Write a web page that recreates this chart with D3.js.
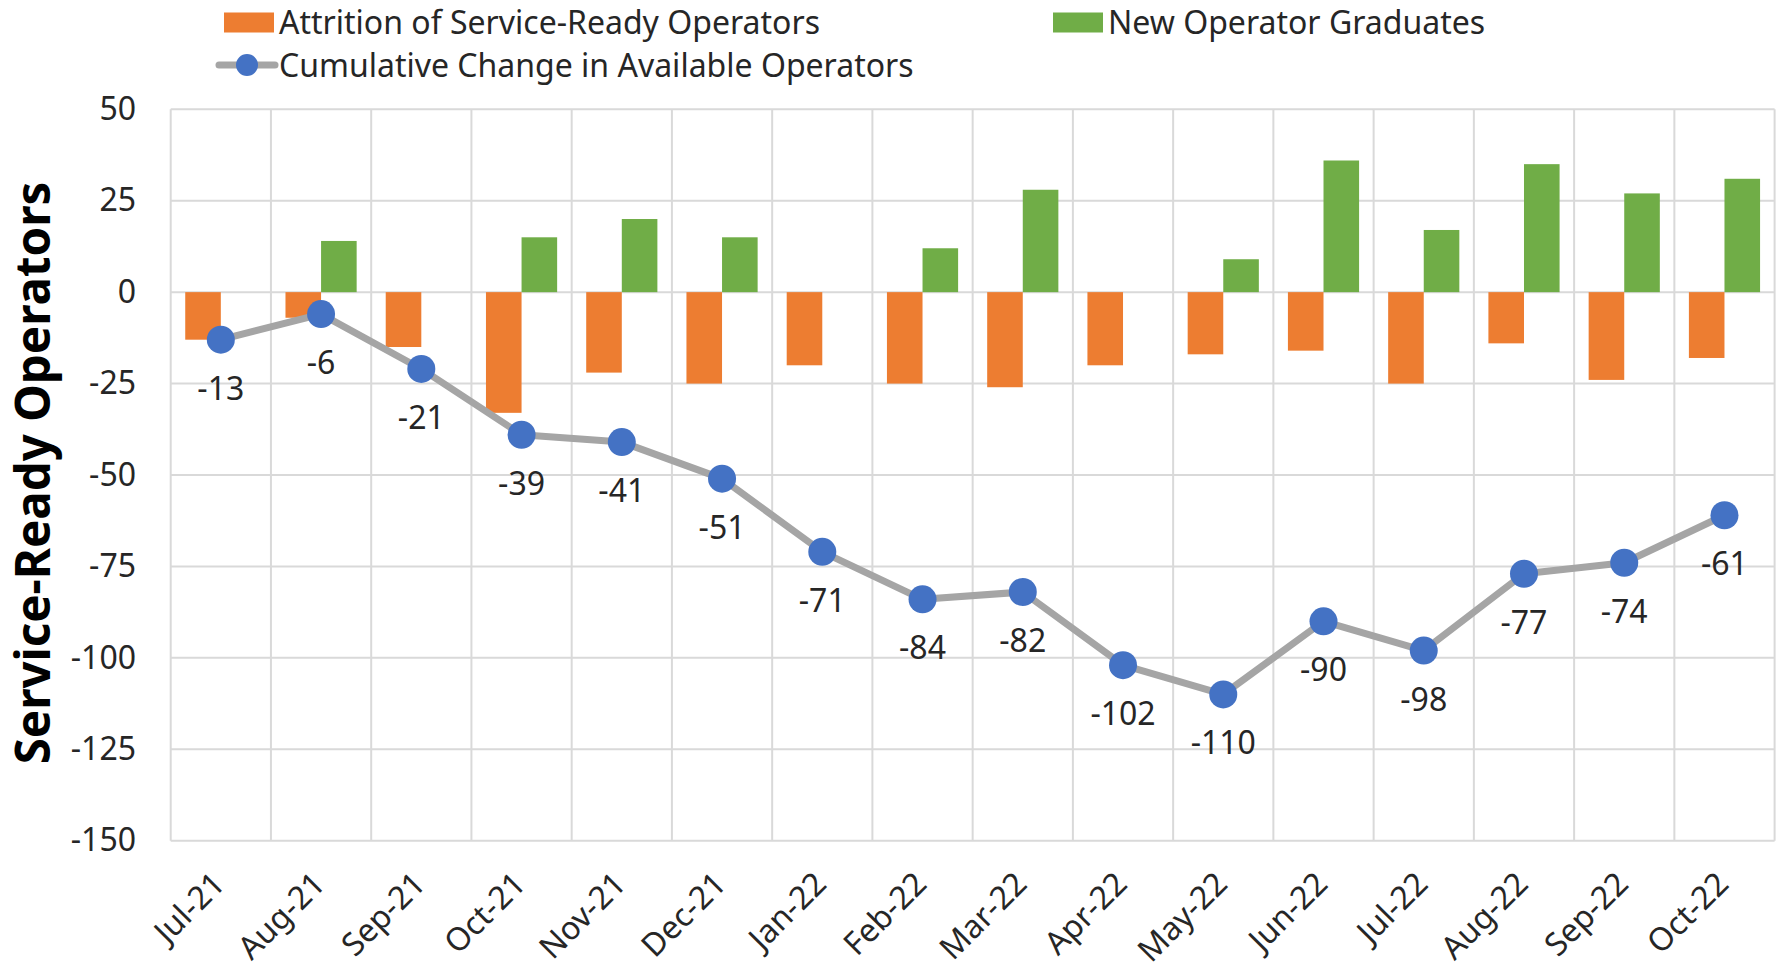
<!DOCTYPE html>
<html>
<head>
<meta charset="utf-8">
<script src="https://cdn.jsdelivr.net/npm/d3@7"></script>
<style>
  html, body { margin: 0; padding: 0; background: #fff; }
  svg { display: block; font-family: "Noto Sans", "Open Sans", sans-serif; }
</style>
</head>
<body>
<svg id="chart" width="1781" height="970"></svg>
<script>
const categories = ["Jul-21","Aug-21","Sep-21","Oct-21","Nov-21","Dec-21","Jan-22","Feb-22","Mar-22","Apr-22","May-22","Jun-22","Jul-22","Aug-22","Sep-22","Oct-22"];
const attrition = [-13,-7,-15,-33,-22,-25,-20,-25,-26,-20,-17,-16,-25,-14,-24,-18];
const graduates = [0,14,0,15,20,15,0,12,28,0,9,36,17,35,27,31];
const cumulative = [-13,-6,-21,-39,-41,-51,-71,-84,-82,-102,-110,-90,-98,-77,-74,-61];
const yTicks = [50,25,0,-25,-50,-75,-100,-125,-150];
const seriesNames = ["Attrition of Service-Ready Operators","New Operator Graduates","Cumulative Change in Available Operators"];
const yTitle = "Service-Ready Operators";

const colors = { attr: "#ED7D31", grad: "#70AD47", line: "#A5A5A5", dot: "#4472C4", grid: "#D9D9D9", text: "#262626" };

const svg = d3.select("#chart");
const pLeft = 170.7, pRight = 1774.6, pTop = 109.3, pBottom = 840.7;

const x = d3.scaleBand().domain(categories).range([pLeft, pRight]).paddingInner(0).paddingOuter(0);
const y = d3.scaleLinear().domain([-150, 50]).range([pBottom, pTop]);
const bw = x.bandwidth() * 0.355;
const cx = c => x(c) + x.bandwidth() / 2;

// gridlines
const g = svg.append("g");
g.selectAll("line.h").data(yTicks).join("line")
  .attr("x1", pLeft).attr("x2", pRight)
  .attr("y1", d => y(d)).attr("y2", d => y(d))
  .attr("stroke", colors.grid).attr("stroke-width", 2);
const bounds = categories.map(c => x(c)).concat([pRight]);
g.selectAll("line.v").data(bounds).join("line")
  .attr("x1", d => d).attr("x2", d => d)
  .attr("y1", pTop).attr("y2", pBottom)
  .attr("stroke", colors.grid).attr("stroke-width", 2);

// y axis labels
const yAxis = d3.axisLeft(y).tickValues(yTicks).tickSize(0).tickPadding(0).tickFormat(d => String(d));
const ya = svg.append("g").attr("transform", `translate(136,0)`).call(yAxis);
ya.select(".domain").remove();
ya.selectAll("text").attr("font-size", 32).attr("fill", colors.text)
  .attr("font-family", '"Noto Sans", sans-serif');

// x axis labels
const xAxis = d3.axisBottom(x).tickSize(0).tickPadding(0);
const xa = svg.append("g").attr("transform", `translate(0,${pBottom})`).call(xAxis);
xa.select(".domain").remove();
xa.selectAll("text")
  .attr("font-size", 32).attr("fill", colors.text)
  .attr("font-family", '"Noto Sans", sans-serif')
  .attr("text-anchor", "end")
  .attr("dy", null).attr("y", 0)
  .attr("transform", "translate(6,45) rotate(-45)");

// bars
svg.append("g").selectAll("rect").data(categories).join("rect")
  .attr("x", (c) => cx(c) - bw)
  .attr("width", bw)
  .attr("y", (c, i) => y(Math.max(0, attrition[i])))
  .attr("height", (c, i) => Math.abs(y(attrition[i]) - y(0)))
  .attr("fill", colors.attr);
svg.append("g").selectAll("rect").data(categories).join("rect")
  .attr("x", (c) => cx(c))
  .attr("width", bw)
  .attr("y", (c, i) => y(Math.max(0, graduates[i])))
  .attr("height", (c, i) => Math.abs(y(graduates[i]) - y(0)))
  .attr("fill", colors.grad);

// line
const line = d3.line().x((d, i) => cx(categories[i])).y(d => y(d));
svg.append("path").datum(cumulative).attr("d", line)
  .attr("fill", "none").attr("stroke", colors.line).attr("stroke-width", 7)
  .attr("stroke-linejoin", "round");
svg.append("g").selectAll("circle").data(cumulative).join("circle")
  .attr("cx", (d, i) => cx(categories[i])).attr("cy", d => y(d)).attr("r", 14)
  .attr("fill", colors.dot);
svg.append("g").selectAll("text").data(cumulative).join("text")
  .attr("x", (d, i) => cx(categories[i])).attr("y", d => y(d) + 60)
  .attr("text-anchor", "middle").attr("font-size", 32).attr("fill", colors.text)
  .text(d => String(d));

// y title
svg.append("text").attr("transform", `translate(50,${(pTop + pBottom) / 2 - 2}) rotate(-90)`)
  .attr("text-anchor", "middle").attr("font-size", 47.5).attr("font-weight", "bold")
  .attr("fill", "#000").text(yTitle);

// legend
const lg = svg.append("g");
lg.append("rect").attr("x", 224).attr("y", 12.5).attr("width", 50).attr("height", 20).attr("fill", colors.attr);
lg.append("text").attr("x", 279).attr("y", 22.7).attr("dy", "0.36em").attr("font-size", 32).attr("fill", colors.text).text(seriesNames[0]);
lg.append("rect").attr("x", 1053).attr("y", 12.5).attr("width", 50).attr("height", 20).attr("fill", colors.grad);
lg.append("text").attr("x", 1108).attr("y", 22.7).attr("dy", "0.36em").attr("font-size", 32).attr("fill", colors.text).text(seriesNames[1]);
lg.append("line").attr("x1", 219).attr("x2", 275).attr("y1", 65).attr("y2", 65).attr("stroke", colors.line).attr("stroke-width", 7).attr("stroke-linecap", "round");
lg.append("circle").attr("cx", 247).attr("cy", 65).attr("r", 11).attr("fill", colors.dot);
lg.append("text").attr("x", 279).attr("y", 65).attr("dy", "0.36em").attr("font-size", 32).attr("fill", colors.text).text(seriesNames[2]);
</script>
</body>
</html>
